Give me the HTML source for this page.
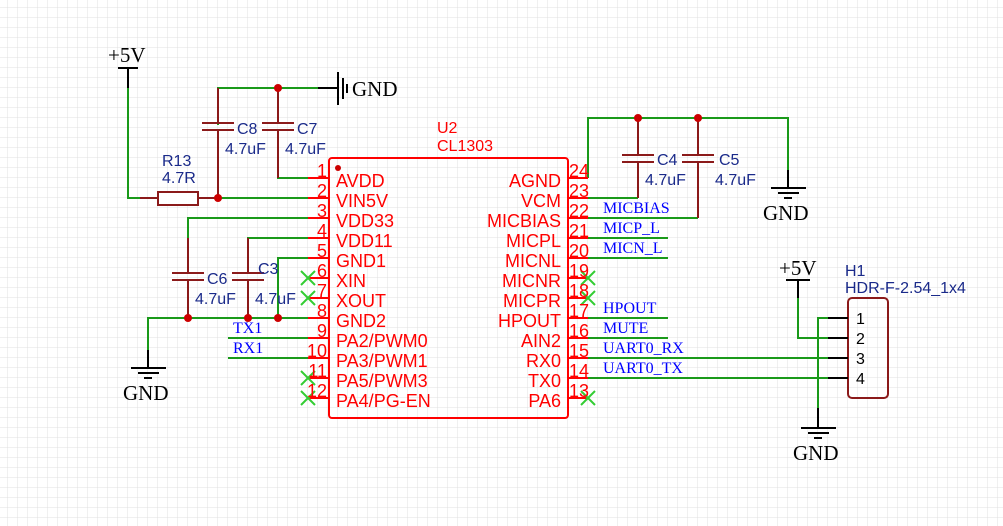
<!DOCTYPE html>
<html><head><meta charset="utf-8"><style>
html,body{margin:0;padding:0;background:#fff}
svg{display:block}
.r{font-family:"Liberation Sans",sans-serif;font-size:18px;fill:#f00}
.n{font-family:"Liberation Sans",sans-serif;font-size:16px;fill:#1a2a8a}
.b{font-family:"Liberation Serif",serif;font-size:16px;fill:#00f}
.k{font-family:"Liberation Serif",serif;font-size:21px;fill:#000}
</style></head><body>
<svg width="1003" height="526" viewBox="0 0 1003 526" xmlns="http://www.w3.org/2000/svg">
<defs>
<pattern id="g" width="10" height="10" patternUnits="userSpaceOnUse" x="8" y="8">
<path d="M10 0V10M0 10H10" fill="none" stroke="#e0e0e0" stroke-width="1"/>
</pattern>
</defs>
<rect width="1003" height="526" fill="url(#g)"/>

<g stroke="#1a9a1a" stroke-width="2" fill="none">
<polyline points="128,88 128,198 140,198"/>
<line x1="218" y1="198" x2="308" y2="198"/>
<polyline points="218,125 218,88 318,88"/>
<polyline points="278,140 278,178 308,178"/>
<polyline points="308,218 188,218 188,238"/>
<polyline points="308,238 248,238 248,250"/>
<polyline points="308,258 278,258 278,318"/>
<polyline points="308,318 148,318 148,350"/>
<line x1="228" y1="338" x2="308" y2="338"/>
<line x1="228" y1="358" x2="308" y2="358"/>
<polyline points="588,178 588,118 788,118 788,188"/>
<polyline points="588,198 638,198"/>
<polyline points="588,218 698,218"/>
<line x1="588" y1="238" x2="668" y2="238"/>
<line x1="588" y1="258" x2="668" y2="258"/>
<line x1="588" y1="318" x2="668" y2="318"/>
<line x1="588" y1="338" x2="668" y2="338"/>
<line x1="588" y1="358" x2="828" y2="358"/>
<line x1="588" y1="378" x2="828" y2="378"/>
<polyline points="798,298 798,338 828,338"/>
<polyline points="828,318 818,318 818,408"/>
</g>

<g stroke="#8b1a1a" stroke-width="2" fill="none">
<line x1="140" y1="198" x2="158" y2="198"/>
<rect x="158" y="192" width="40" height="13" fill="#fff"/>
<line x1="198" y1="198" x2="218" y2="198"/>
<line x1="218" y1="88" x2="218" y2="123"/><line x1="202" y1="123" x2="234" y2="123"/><line x1="202" y1="130" x2="234" y2="130"/><line x1="218" y1="130" x2="218" y2="198"/>
<line x1="278" y1="88" x2="278" y2="123"/><line x1="262" y1="123" x2="294" y2="123"/><line x1="262" y1="130" x2="294" y2="130"/><line x1="278" y1="130" x2="278" y2="178"/>
<line x1="188" y1="238" x2="188" y2="273"/><line x1="172" y1="273" x2="204" y2="273"/><line x1="172" y1="280" x2="204" y2="280"/><line x1="188" y1="280" x2="188" y2="318"/>
<line x1="248" y1="238" x2="248" y2="273"/><line x1="232" y1="273" x2="264" y2="273"/><line x1="232" y1="280" x2="264" y2="280"/><line x1="248" y1="280" x2="248" y2="318"/>
<line x1="638" y1="118" x2="638" y2="155"/><line x1="622" y1="155" x2="654" y2="155"/><line x1="622" y1="162" x2="654" y2="162"/><line x1="638" y1="162" x2="638" y2="198"/>
<line x1="698" y1="118" x2="698" y2="155"/><line x1="682" y1="155" x2="714" y2="155"/><line x1="682" y1="162" x2="714" y2="162"/><line x1="698" y1="162" x2="698" y2="218"/>
<rect x="848" y="298" width="40" height="100" rx="4"/>
</g>

<g fill="#c00">
<circle cx="218" cy="198" r="4"/><circle cx="278" cy="88" r="4"/>
<circle cx="188" cy="318" r="4"/><circle cx="248" cy="318" r="4"/><circle cx="278" cy="318" r="4"/>
<circle cx="638" cy="118" r="4"/><circle cx="698" cy="118" r="4"/>
<circle cx="338" cy="168" r="3"/>
</g>

<g stroke="#000" stroke-width="2" fill="none">
<line x1="118" y1="68" x2="138" y2="68"/><line x1="128" y1="68" x2="128" y2="88"/>
<line x1="318" y1="88" x2="338" y2="88"/><line x1="338" y1="72" x2="338" y2="105"/><line x1="343" y1="78" x2="343" y2="99"/><line x1="347" y1="84" x2="347" y2="93"/>
<line x1="148" y1="350" x2="148" y2="368"/><line x1="131" y1="368" x2="166" y2="368"/><line x1="138" y1="373" x2="159" y2="373"/><line x1="144" y1="378" x2="152" y2="378"/>
<line x1="788" y1="170" x2="788" y2="188"/><line x1="771" y1="188" x2="806" y2="188"/><line x1="778" y1="193" x2="799" y2="193"/><line x1="784" y1="198" x2="792" y2="198"/>
<line x1="786" y1="280" x2="810" y2="280"/><line x1="798" y1="280" x2="798" y2="298"/>
<line x1="818" y1="408" x2="818" y2="428"/><line x1="801" y1="428" x2="836" y2="428"/><line x1="808" y1="433" x2="829" y2="433"/><line x1="814" y1="438" x2="822" y2="438"/>
<line x1="828" y1="318" x2="848" y2="318"/><line x1="828" y1="338" x2="848" y2="338"/><line x1="828" y1="358" x2="848" y2="358"/><line x1="828" y1="378" x2="848" y2="378"/>
</g>

<g stroke="#f00" stroke-width="2" fill="none">
<rect x="329" y="158" width="239" height="260" rx="3"/>
<path d="M308 178h21M308 198h21M308 218h21M308 238h21M308 258h21M308 278h21M308 298h21M308 318h21M308 338h21M308 358h21M308 378h21M308 398h21"/>
<path d="M568 178h20M568 198h20M568 218h20M568 238h20M568 258h20M568 278h20M568 298h20M568 318h20M568 338h20M568 358h20M568 378h20M568 398h20"/>
</g>

<g stroke="#3c3" stroke-width="2">
<path d="M301 271l14 14M315 271l-14 14M301 291l14 14M315 291l-14 14M301 371l14 14M315 371l-14 14M301 391l14 14M315 391l-14 14"/>
<path d="M581 271l14 14M595 271l-14 14M581 291l14 14M595 291l-14 14M581 391l14 14M595 391l-14 14"/>
</g>

<g class="r" text-anchor="end">
<text x="327" y="177">1</text><text x="327" y="197">2</text><text x="327" y="217">3</text><text x="327" y="237">4</text><text x="327" y="257">5</text><text x="327" y="277">6</text><text x="327" y="297">7</text><text x="327" y="317">8</text><text x="327" y="337">9</text><text x="327" y="357">10</text><text x="327" y="377">11</text><text x="327" y="397">12</text>
</g>
<g class="r">
<text x="569" y="177">24</text><text x="569" y="197">23</text><text x="569" y="217">22</text><text x="569" y="237">21</text><text x="569" y="257">20</text><text x="569" y="277">19</text><text x="569" y="297">18</text><text x="569" y="317">17</text><text x="569" y="337">16</text><text x="569" y="357">15</text><text x="569" y="377">14</text><text x="569" y="397">13</text>
<text x="336" y="187">AVDD</text><text x="336" y="207">VIN5V</text><text x="336" y="227">VDD33</text><text x="336" y="247">VDD11</text><text x="336" y="267">GND1</text><text x="336" y="287">XIN</text><text x="336" y="307">XOUT</text><text x="336" y="327">GND2</text><text x="336" y="347">PA2/PWM0</text><text x="336" y="367">PA3/PWM1</text><text x="336" y="387">PA5/PWM3</text><text x="336" y="407">PA4/PG-EN</text>
<text x="437" y="133" style="font-size:16px">U2</text><text x="437" y="151" style="font-size:16px">CL1303</text>
</g>
<g class="r" text-anchor="end">
<text x="561" y="187">AGND</text><text x="561" y="207">VCM</text><text x="561" y="227">MICBIAS</text><text x="561" y="247">MICPL</text><text x="561" y="267">MICNL</text><text x="561" y="287">MICNR</text><text x="561" y="307">MICPR</text><text x="561" y="327">HPOUT</text><text x="561" y="347">AIN2</text><text x="561" y="367">RX0</text><text x="561" y="387">TX0</text><text x="561" y="407">PA6</text>
</g>

<g class="n">
<text x="162" y="166">R13</text><text x="162" y="183">4.7R</text>
<text x="237" y="134">C8</text><text x="225" y="154">4.7uF</text>
<text x="297" y="134">C7</text><text x="285" y="154">4.7uF</text>
<text x="207" y="284">C6</text><text x="195" y="304">4.7uF</text>
<text x="258" y="274">C3</text><text x="255" y="304">4.7uF</text>
<text x="657" y="165">C4</text><text x="645" y="185">4.7uF</text>
<text x="719" y="165">C5</text><text x="715" y="185">4.7uF</text>
<text x="845" y="276">H1</text><text x="845" y="293">HDR-F-2.54_1x4</text>
</g>
<g style="font-family:'Liberation Sans',sans-serif;font-size:16px;fill:#000">
<text x="856" y="324">1</text><text x="856" y="344">2</text><text x="856" y="364">3</text><text x="856" y="384">4</text>
</g>

<g class="b">
<text x="233" y="333">TX1</text><text x="233" y="353">RX1</text>
<text x="603" y="213">MICBIAS</text><text x="603" y="233">MICP_L</text><text x="603" y="253">MICN_L</text>
<text x="603" y="313">HPOUT</text><text x="603" y="333">MUTE</text><text x="603" y="353">UART0_RX</text><text x="603" y="373">UART0_TX</text>
</g>
<g class="k">
<text x="108" y="62">+5V</text>
<text x="352" y="96">GND</text>
<text x="123" y="400">GND</text>
<text x="763" y="220">GND</text>
<text x="779" y="275">+5V</text>
<text x="793" y="460">GND</text>
</g>
</svg>
</body></html>
